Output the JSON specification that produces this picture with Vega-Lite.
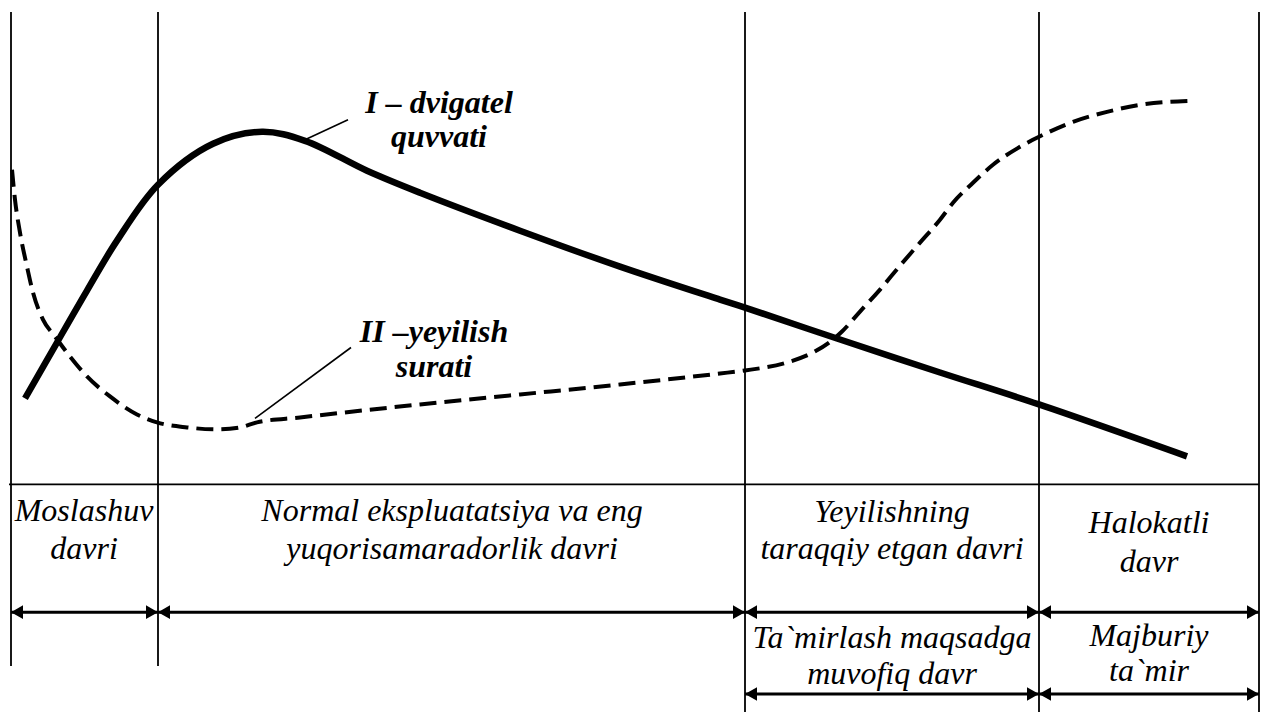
{
  "$schema": "https://vega.github.io/schema/vega-lite/v6.json",
  "width": 1268,
  "height": 713,
  "autosize": {"type": "fit", "contains": "padding"},
  "padding": 0,
  "background": "white",
  "config": {"view": {"stroke": null}},
  "datasets": {
    "vlines": [
      {"x": 11, "y1": 12, "y2": 667},
      {"x": 158, "y1": 12, "y2": 667},
      {"x": 745, "y1": 12, "y2": 713},
      {"x": 1039, "y1": 12, "y2": 713},
      {"x": 1259, "y1": 12, "y2": 713}
    ],
    "hline": [{"x1": 9, "x2": 1259, "y": 485}],
    "arrows": [
      {"x1": 11, "x2": 158, "y": 613},
      {"x1": 158, "x2": 745, "y": 613},
      {"x1": 745, "x2": 1039, "y": 613},
      {"x1": 1039, "x2": 1259, "y": 613},
      {"x1": 745, "x2": 1039, "y": 695},
      {"x1": 1039, "x2": 1259, "y": 695}
    ],
    "power": [
      {"x": 25, "y": 399}, {"x": 57, "y": 343}, {"x": 87, "y": 291}, {"x": 117, "y": 241},
      {"x": 158, "y": 185}, {"x": 213, "y": 144}, {"x": 262, "y": 132}, {"x": 305, "y": 141},
      {"x": 367, "y": 171}, {"x": 420, "y": 193}, {"x": 520, "y": 231}, {"x": 620, "y": 267},
      {"x": 720, "y": 300}, {"x": 745, "y": 308}, {"x": 837, "y": 339}, {"x": 940, "y": 373},
      {"x": 1039, "y": 405}, {"x": 1187, "y": 457}
    ],
    "wear": [
      {"x": 12, "y": 170}, {"x": 15, "y": 200}, {"x": 20, "y": 233}, {"x": 27, "y": 267},
      {"x": 33, "y": 293}, {"x": 43, "y": 320}, {"x": 55, "y": 337}, {"x": 70, "y": 357},
      {"x": 87, "y": 377}, {"x": 110, "y": 397}, {"x": 137, "y": 415}, {"x": 157, "y": 423},
      {"x": 187, "y": 428}, {"x": 217, "y": 430}, {"x": 240, "y": 428}, {"x": 257, "y": 423},
      {"x": 300, "y": 418}, {"x": 420, "y": 405}, {"x": 520, "y": 395}, {"x": 620, "y": 385},
      {"x": 720, "y": 374}, {"x": 745, "y": 371}, {"x": 787, "y": 363}, {"x": 813, "y": 353},
      {"x": 833, "y": 340}, {"x": 842, "y": 332}, {"x": 860, "y": 312}, {"x": 880, "y": 290},
      {"x": 900, "y": 266}, {"x": 920, "y": 243}, {"x": 940, "y": 220}, {"x": 953, "y": 203},
      {"x": 973, "y": 183}, {"x": 993, "y": 165}, {"x": 1020, "y": 147}, {"x": 1039, "y": 137},
      {"x": 1073, "y": 122}, {"x": 1107, "y": 112}, {"x": 1140, "y": 105}, {"x": 1190, "y": 101}
    ],
    "leaders": [
      {"x1": 305, "y1": 140, "x2": 348, "y2": 120},
      {"x1": 255, "y1": 419, "x2": 351, "y2": 348}
    ],
    "curveLabels": [
      {"x": 439, "y": 113, "t": "I – dvigatel"},
      {"x": 439, "y": 147, "t": "quvvati"},
      {"x": 434, "y": 342, "t": "II –yeyilish"},
      {"x": 434, "y": 378, "t": "surati"}
    ],
    "periodLabels": [
      {"x": 84, "y": 522, "t": "Moslashuv"},
      {"x": 84, "y": 560, "t": "davri"},
      {"x": 452, "y": 522, "t": "Normal ekspluatatsiya va eng"},
      {"x": 452, "y": 560, "t": "yuqorisamaradorlik davri"},
      {"x": 892, "y": 523, "t": "Yeyilishning"},
      {"x": 892, "y": 560, "t": "taraqqiy etgan davri"},
      {"x": 1149, "y": 534, "t": "Halokatli"},
      {"x": 1149, "y": 573, "t": "davr"},
      {"x": 892, "y": 649, "t": "Ta`mirlash maqsadga"},
      {"x": 892, "y": 685, "t": "muvofiq davr"},
      {"x": 1149, "y": 647, "t": "Majburiy"},
      {"x": 1149, "y": 682, "t": "ta`mir"}
    ]
  },
  "layer": [
    {
      "data": {"name": "vlines"},
      "mark": {"type": "rule", "color": "black", "strokeWidth": 1.8},
      "encoding": {
        "x": {"field": "x", "type": "quantitative", "scale": {"domain": [0, 1268], "nice": false, "zero": false}, "axis": null},
        "y": {"field": "y1", "type": "quantitative", "scale": {"domain": [0, 713], "nice": false, "zero": false, "reverse": true}, "axis": null},
        "y2": {"field": "y2"}
      }
    },
    {
      "data": {"name": "hline"},
      "mark": {"type": "rule", "color": "black", "strokeWidth": 1.8},
      "encoding": {
        "x": {"field": "x1", "type": "quantitative"},
        "x2": {"field": "x2"},
        "y": {"field": "y", "type": "quantitative"}
      }
    },
    {
      "data": {"name": "arrows"},
      "mark": {"type": "rule", "color": "black", "strokeWidth": 3},
      "encoding": {
        "x": {"field": "x1", "type": "quantitative"},
        "x2": {"field": "x2"},
        "y": {"field": "y", "type": "quantitative"}
      }
    },
    {
      "data": {"name": "arrows"},
      "mark": {"type": "point", "filled": true, "color": "black", "opacity": 1, "size": 169, "strokeWidth": 0, "shape": "M0,0 L1.85,-1.05 L1.85,1.05 Z"},
      "encoding": {
        "x": {"field": "x1", "type": "quantitative"},
        "y": {"field": "y", "type": "quantitative"}
      }
    },
    {
      "data": {"name": "arrows"},
      "mark": {"type": "point", "filled": true, "color": "black", "opacity": 1, "size": 169, "strokeWidth": 0, "shape": "M0,0 L-1.85,-1.05 L-1.85,1.05 Z"},
      "encoding": {
        "x": {"field": "x2", "type": "quantitative"},
        "y": {"field": "y", "type": "quantitative"}
      }
    },
    {
      "data": {"name": "power"},
      "mark": {"type": "line", "color": "black", "strokeWidth": 6.5, "interpolate": "catmull-rom", "strokeCap": "butt"},
      "encoding": {
        "x": {"field": "x", "type": "quantitative"},
        "y": {"field": "y", "type": "quantitative"}
      }
    },
    {
      "data": {"name": "wear"},
      "mark": {"type": "line", "color": "black", "strokeWidth": 4, "interpolate": "monotone", "strokeDash": [17, 8], "strokeCap": "butt"},
      "encoding": {
        "x": {"field": "x", "type": "quantitative"},
        "y": {"field": "y", "type": "quantitative"}
      }
    },
    {
      "data": {"name": "leaders"},
      "mark": {"type": "rule", "color": "black", "strokeWidth": 1.6},
      "encoding": {
        "x": {"field": "x1", "type": "quantitative"},
        "y": {"field": "y1", "type": "quantitative"},
        "x2": {"field": "x2"},
        "y2": {"field": "y2"}
      }
    },
    {
      "data": {"name": "curveLabels"},
      "mark": {"type": "text", "font": "Liberation Serif", "fontStyle": "italic", "fontWeight": "bold", "fontSize": 32, "align": "center", "baseline": "alphabetic", "color": "black"},
      "encoding": {
        "x": {"field": "x", "type": "quantitative"},
        "y": {"field": "y", "type": "quantitative"},
        "text": {"field": "t"}
      }
    },
    {
      "data": {"name": "periodLabels"},
      "mark": {"type": "text", "font": "Liberation Serif", "fontStyle": "italic", "fontSize": 32, "align": "center", "baseline": "alphabetic", "color": "black"},
      "encoding": {
        "x": {"field": "x", "type": "quantitative"},
        "y": {"field": "y", "type": "quantitative"},
        "text": {"field": "t"}
      }
    }
  ]
}
